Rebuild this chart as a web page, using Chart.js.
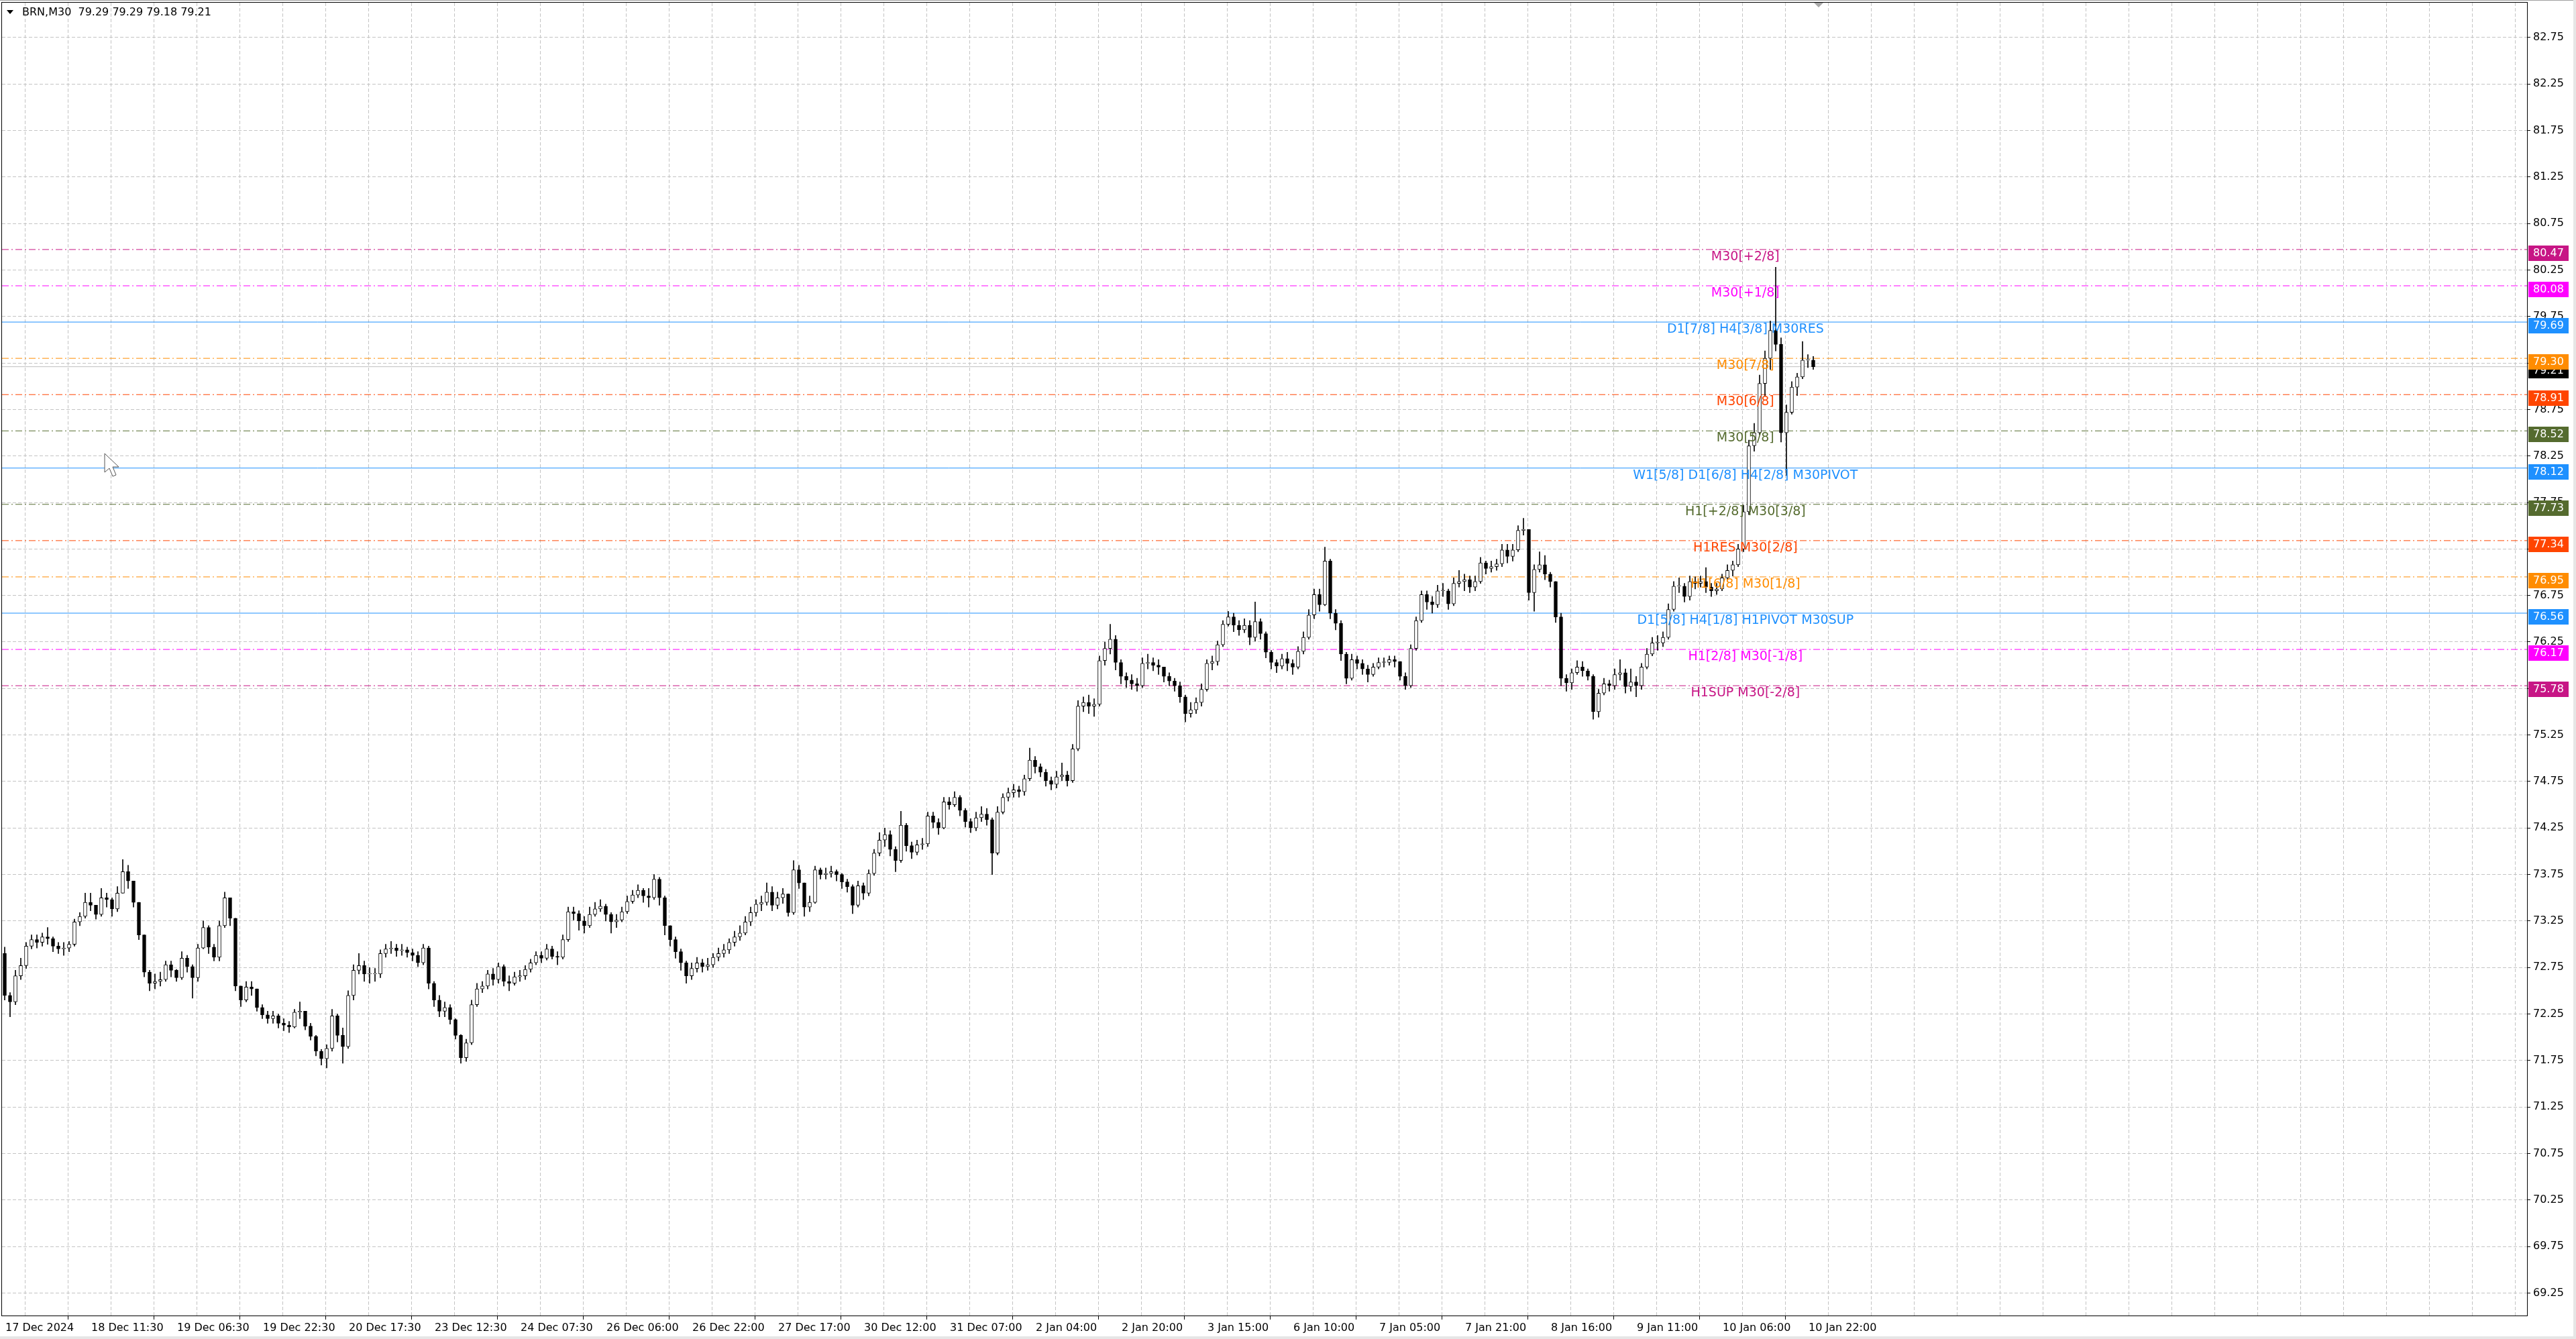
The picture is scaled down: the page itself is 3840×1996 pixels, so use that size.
<!DOCTYPE html>
<html>
<head>
<meta charset="utf-8">
<title>BRN,M30</title>
<script src="https://cdn.jsdelivr.net/npm/chart.js@4.4.1/dist/chart.umd.min.js"></script>
<style>
  html, body { margin: 0; padding: 0; background: #fff; }
  canvas { display: block; }
</style>
</head>
<body>
<canvas id="chart" width="3840" height="1996"></canvas>
<script>
// header values
const symbol = "BRN,M30";
const lastBar = [79.29, 79.29, 79.18, 79.21];
const currentPrice = 79.21;
const firstOpen = 72.90;

// hourly candles (2 M30 bars per candle)
const closes = [
  72.45, 72.38, 72.66, 72.77, 72.98, 73.05, 73.02, 73.08, 73.06, 72.98,
  72.95, 72.96, 73.0, 73.24, 73.3, 73.45, 73.42, 73.32, 73.5, 73.48,
  73.38, 73.55, 73.78, 73.68, 73.45, 73.1, 72.7, 72.58, 72.6, 72.62,
  72.78, 72.72, 72.64, 72.85, 72.76, 72.64, 72.96, 73.18, 72.97, 72.86,
  73.2, 73.5, 73.28, 72.55, 72.4, 72.54, 72.52, 72.32, 72.24, 72.2,
  72.23, 72.15, 72.13, 72.11, 72.27, 72.28, 72.12, 72.01, 71.85, 71.77,
  71.88, 72.23, 72.02, 71.9, 72.45, 72.72, 72.77, 72.68, 72.68, 72.68,
  72.9, 72.95, 72.96, 72.93, 72.94, 72.91, 72.88, 72.8, 72.96, 72.58,
  72.4, 72.28, 72.32, 72.19, 72.02, 71.78, 71.94, 72.35, 72.52, 72.55,
  72.68, 72.62, 72.76, 72.6, 72.58, 72.65, 72.66, 72.73, 72.8, 72.88,
  72.85, 72.95, 72.87, 72.86, 73.05, 73.35, 73.33, 73.25, 73.2, 73.32,
  73.38, 73.41, 73.32, 73.24, 73.26, 73.35, 73.46, 73.53, 73.58, 73.52,
  73.5, 73.7, 73.5, 73.2, 73.05, 72.92, 72.8, 72.66, 72.74, 72.8,
  72.76, 72.78, 72.86, 72.9, 72.94, 73.02, 73.08, 73.12, 73.24, 73.34,
  73.43, 73.45, 73.56, 73.42, 73.5, 73.54, 73.34, 73.8, 73.66, 73.4,
  73.45, 73.8, 73.75, 73.76, 73.78, 73.75, 73.67, 73.62, 73.42, 73.63,
  73.55, 73.76, 73.98, 74.12, 74.18, 74.02, 73.9, 74.28, 74.06, 73.99,
  74.07, 74.08, 74.38, 74.31, 74.25, 74.53, 74.5, 74.58, 74.44, 74.32,
  74.25, 74.36, 74.4, 74.34, 73.98, 74.42, 74.58, 74.63, 74.66, 74.64,
  74.78, 74.98, 74.91, 74.85, 74.76, 74.72, 74.8, 74.82, 74.76, 75.1,
  75.56, 75.6, 75.56, 75.58, 76.05, 76.18, 76.28, 76.03, 75.88, 75.84,
  75.8, 75.78, 76.02, 76.03, 76.0, 75.98, 75.88, 75.83, 75.78, 75.66,
  75.48, 75.52, 75.6, 75.74, 76.02, 76.04, 76.22, 76.44, 76.52, 76.43,
  76.38, 76.43, 76.3, 76.47, 76.34, 76.14, 76.03, 75.99, 76.07, 76.02,
  75.98, 76.15, 76.3, 76.54, 76.76, 76.65, 77.12, 76.56, 76.45, 76.12,
  75.86, 76.06, 76.02, 75.96, 75.9, 75.98, 76.03, 76.03, 76.06, 76.04,
  75.88, 75.78, 76.18, 76.48, 76.76, 76.68, 76.65, 76.8, 76.8, 76.66,
  76.88, 76.9, 76.92, 76.84, 76.9, 77.1, 77.04, 77.06, 77.09, 77.24,
  77.17, 77.24, 77.45, 77.46, 76.78, 77.03, 77.08, 76.98, 76.9, 76.52,
  75.86, 75.81, 75.92, 75.98, 75.94, 75.88, 75.5, 75.7, 75.8, 75.78,
  75.9, 75.92, 75.77, 75.82, 75.78, 75.98, 76.12, 76.24, 76.24, 76.3,
  76.6, 76.85, 76.85, 76.74, 76.9, 76.88, 76.9, 76.84, 76.8, 76.82,
  76.94, 77.02, 77.08, 77.25, 77.65, 78.36, 78.5, 79.03, 79.3, 79.6,
  79.45, 78.5, 78.72, 78.99, 79.1, 79.28, 79.28, 79.21
];
const highs = [
  72.97, 72.48, 72.72, 72.85, 73.02, 73.1, 73.1, 73.12, 73.18, 73.08,
  73.02, 73.02, 73.03, 73.27, 73.34, 73.55, 73.55, 73.42, 73.6, 73.55,
  73.5, 73.62, 73.91, 73.85, 73.6, 73.45, 73.1, 72.72, 72.68, 72.7,
  72.82, 72.82, 72.73, 72.92, 72.88, 72.78, 73.0, 73.25, 73.2, 73.0,
  73.25, 73.56, 73.5, 73.28, 72.55, 72.6, 72.6, 72.52, 72.35, 72.28,
  72.28, 72.25, 72.2, 72.17, 72.3, 72.38, 72.28, 72.15, 72.02, 71.87,
  71.92, 72.3, 72.25, 72.1, 72.5, 72.78, 72.9, 72.82, 72.75, 72.74,
  72.94, 73.0, 73.03, 73.0, 73.0, 72.97, 72.95, 72.92, 73.0, 72.98,
  72.6, 72.45, 72.38, 72.35, 72.2, 72.03, 71.98, 72.4, 72.58, 72.6,
  72.72, 72.74, 72.8, 72.78, 72.66, 72.7, 72.72, 72.77, 72.84, 72.92,
  72.92, 73.0, 72.98, 72.92, 73.1, 73.4, 73.4, 73.36, 73.3, 73.4,
  73.45, 73.48, 73.43, 73.34, 73.32, 73.4, 73.52, 73.58, 73.64, 73.6,
  73.6, 73.75, 73.72, 73.52, 73.2, 73.08, 72.95, 72.82, 72.8, 72.86,
  72.84, 72.85, 72.9, 72.96, 73.0, 73.06, 73.14, 73.2, 73.3, 73.4,
  73.48, 73.52, 73.66, 73.62, 73.56, 73.6, 73.52, 73.9, 73.85, 73.6,
  73.52, 73.84, 73.82, 73.82, 73.84, 73.8, 73.76, 73.7, 73.64, 73.68,
  73.66, 73.8, 74.02, 74.2, 74.25, 74.22, 74.05, 74.43, 74.3, 74.1,
  74.12, 74.14, 74.42, 74.42, 74.35, 74.58, 74.58, 74.64, 74.6, 74.46,
  74.35, 74.42, 74.48, 74.46, 74.36, 74.48, 74.62, 74.68, 74.72, 74.7,
  74.82, 75.11, 75.02, 74.94, 74.88, 74.8, 74.86, 74.95, 74.86, 75.15,
  75.62, 75.66, 75.68, 75.64, 76.1, 76.25, 76.44, 76.32, 76.06, 75.92,
  75.9, 75.86, 76.08, 76.12, 76.08, 76.06, 75.98, 75.92, 75.86, 75.82,
  75.68, 75.6, 75.65, 75.8, 76.06, 76.1, 76.26, 76.48, 76.58, 76.56,
  76.48, 76.5, 76.48, 76.68, 76.5, 76.36, 76.16, 76.06, 76.12, 76.14,
  76.06, 76.2, 76.36, 76.6, 76.82, 76.82, 77.27, 77.14, 76.6, 76.48,
  76.14, 76.12, 76.1, 76.06, 76.0, 76.02, 76.08, 76.08, 76.1, 76.1,
  76.04, 75.92, 76.22, 76.52, 76.8, 76.8, 76.74, 76.86, 76.88, 76.82,
  76.94, 77.02, 76.98, 76.96, 76.96, 77.16, 77.12, 77.12, 77.14, 77.3,
  77.3, 77.3, 77.5, 77.58, 77.46, 77.08, 77.22, 77.18, 77.0, 76.9,
  76.56, 75.9, 75.96, 76.05, 76.04, 75.96, 75.9, 75.74, 75.86, 75.84,
  75.96, 76.06, 75.96, 75.96, 75.88, 76.02, 76.18, 76.3, 76.32, 76.36,
  76.66, 76.9, 76.94, 76.88, 76.96, 76.95, 76.96, 77.05, 76.88, 76.88,
  76.98, 77.08, 77.12, 77.3, 77.72, 78.42, 78.6, 79.12, 79.38, 79.7,
  80.28, 79.52, 78.8, 79.05, 79.14, 79.48, 79.34, 79.32
];
const lows = [
  72.4, 72.22, 72.35, 72.62, 72.74, 72.95, 72.96, 72.98, 73.0, 72.92,
  72.9, 72.88, 72.92, 72.98, 73.2, 73.28, 73.36, 73.27, 73.3, 73.4,
  73.3, 73.35, 73.55, 73.6, 73.4, 73.05, 72.65, 72.5, 72.52, 72.55,
  72.6, 72.65, 72.6, 72.62, 72.7, 72.42, 72.6, 72.95, 72.9, 72.82,
  72.82, 73.18, 73.2, 72.5, 72.33, 72.38, 72.45, 72.28, 72.2, 72.15,
  72.15, 72.1, 72.07, 72.05, 72.1, 72.2, 72.08, 71.97, 71.8, 71.7,
  71.67, 71.85, 71.95, 71.72, 71.88, 72.4, 72.68, 72.6, 72.58, 72.6,
  72.64, 72.86, 72.9, 72.87, 72.88, 72.86, 72.82, 72.76, 72.78, 72.52,
  72.33, 72.22, 72.22, 72.14, 71.98, 71.72, 71.74, 71.92, 72.33, 72.48,
  72.52, 72.56, 72.58, 72.55, 72.5, 72.56, 72.6, 72.62, 72.7, 72.78,
  72.8, 72.83, 72.84, 72.78, 72.84, 73.03, 73.26, 73.15, 73.12, 73.18,
  73.3, 73.35, 73.25, 73.12, 73.18, 73.24, 73.33, 73.44, 73.5, 73.45,
  73.4, 73.48, 73.42, 73.1, 72.98, 72.85, 72.72, 72.58, 72.62, 72.7,
  72.7, 72.72, 72.75, 72.82, 72.86, 72.9, 72.98, 73.04, 73.1, 73.2,
  73.3, 73.36, 73.42, 73.36, 73.38, 73.44, 73.3, 73.32, 73.6, 73.3,
  73.35, 73.44, 73.7, 73.7, 73.72, 73.68, 73.6, 73.56, 73.33, 73.4,
  73.48, 73.52, 73.74, 73.95, 74.05, 73.95, 73.78, 73.88, 74.0, 73.92,
  73.96, 74.02, 74.05, 74.25, 74.18, 74.24, 74.45, 74.48, 74.38, 74.26,
  74.2, 74.22, 74.32, 74.28, 73.75, 73.96, 74.4, 74.54, 74.58, 74.58,
  74.6, 74.76, 74.84, 74.8, 74.7, 74.66, 74.68, 74.76, 74.7, 74.74,
  75.08, 75.5, 75.48, 75.45, 75.56, 76.0, 76.12, 75.95, 75.8, 75.76,
  75.74, 75.72, 75.76, 75.96, 75.94, 75.9, 75.82, 75.78, 75.72, 75.6,
  75.39, 75.44, 75.48, 75.56, 75.72, 75.95, 76.0, 76.2, 76.42, 76.36,
  76.32, 76.35, 76.22, 76.26, 76.28, 76.08, 75.96, 75.92, 75.96, 75.94,
  75.9, 75.96, 76.12, 76.28, 76.5, 76.58, 76.64, 76.5, 76.38, 76.05,
  75.8, 75.84, 75.96, 75.9, 75.82, 75.88, 75.96, 75.98, 76.0, 75.98,
  75.84, 75.74, 75.76, 76.16, 76.46, 76.6, 76.56, 76.62, 76.74, 76.6,
  76.64, 76.84, 76.8, 76.78, 76.8, 76.88, 76.98, 77.0, 77.02, 77.06,
  77.1, 77.12, 77.22, 77.4, 76.7, 76.58, 77.0, 76.92, 76.84, 76.46,
  75.78, 75.72, 75.74, 75.9, 75.88, 75.84, 75.42, 75.44, 75.68, 75.72,
  75.74, 75.84, 75.7, 75.72, 75.66, 75.74, 75.96, 76.1, 76.16, 76.2,
  76.28, 76.58, 76.78, 76.68, 76.7, 76.82, 76.84, 76.78, 76.74, 76.76,
  76.8, 76.92, 76.96, 77.06, 77.22, 77.62, 78.3, 78.48, 78.9, 79.18,
  79.38, 78.4, 78.04, 78.7, 78.9, 79.08, 79.2, 79.18
];

// time axis labels, one every 32 M30 bars
const timeLabels = [
  "17 Dec 2024", "18 Dec 11:30", "19 Dec 06:30", "19 Dec 22:30", "20 Dec 17:30",
  "23 Dec 12:30", "24 Dec 07:30", "26 Dec 06:00", "26 Dec 22:00", "27 Dec 17:00",
  "30 Dec 12:00", "31 Dec 07:00", "2 Jan 04:00", "2 Jan 20:00", "3 Jan 15:00",
  "6 Jan 10:00", "7 Jan 05:00", "7 Jan 21:00", "8 Jan 16:00", "9 Jan 11:00",
  "10 Jan 06:00", "10 Jan 22:00"
];

// price axis ticks
const priceTicks = [
  69.25, 69.75, 70.25, 70.75, 71.25, 71.75, 72.25, 72.75, 73.25, 73.75,
  74.25, 74.75, 75.25, 75.75, 76.25, 76.75, 77.25, 77.75, 78.25, 78.75,
  79.25, 79.75, 80.25, 80.75, 81.25, 81.75, 82.25, 82.75
];

// Murrey math levels
const levelValues = [80.47, 80.08, 79.69, 79.30, 78.91, 78.52, 78.12, 77.73, 77.34, 76.95, 76.56, 76.17, 75.78];
const levelNames = [
  "M30[+2/8]", "M30[+1/8]", "D1[7/8] H4[3/8] M30RES", "M30[7/8]", "M30[6/8]", "M30[5/8]",
  "W1[5/8] D1[6/8] H4[2/8] M30PIVOT", "H1[+2/8] M30[3/8]", "H1RES M30[2/8]", "H1[6/8] M30[1/8]",
  "D1[5/8] H4[1/8] H1PIVOT M30SUP", "H1[2/8] M30[-1/8]", "H1SUP M30[-2/8]"
];
const levelColors = [
  "#C71585", "#FF00FF", "#1E90FF", "#FF8C00", "#FF4500", "#556B2F", "#1E90FF",
  "#556B2F", "#FF4500", "#FF8C00", "#1E90FF", "#FF00FF", "#C71585"
];
const levelSolid = [false, false, true, false, false, false, true, false, false, false, true, false, false];

// layout of the M30 time axis
const barsPerCandle = 2;
const barsPerLabel = 32;
const barsPerGrid = 16;
const xMin = -0.5, xMax = 940.5;
const yMin = 69.008, yMax = 83.124;
const levelLabelBar = 649.2;
const shiftBar = 676.5;
const font = "DejaVu Sans";

const opens = [firstOpen].concat(closes.slice(0, -1));
const candleX = closes.map((c, j) => j * barsPerCandle + 0.5);

const bodies = closes.map((c, j) => ({ x: candleX[j], y: [opens[j], c] }));
const wicks = closes.map((c, j) => ({
  x: candleX[j],
  y: [Math.min(lows[j], opens[j], c), Math.max(highs[j], opens[j], c)]
}));

const levelSets = levelValues.map((v, i) => ({
  type: "line",
  data: [{ x: xMin, y: v }, { x: xMax, y: v }],
  borderColor: levelColors[i],
  borderWidth: 1,
  borderDash: levelSolid[i] ? [] : [10, 4, 2, 4],
  pointRadius: 0,
  order: 3
}));

const gridBars = [];
for (let b = 0; b <= xMax; b += barsPerGrid) gridBars.push(b);

const isLabelled = (v) => v % barsPerLabel === 0 && v / barsPerLabel < timeLabels.length;

const overlay = {
  id: "overlay",
  afterDatasetsDraw(chart) {
    const { ctx, scales: { x, y } } = chart;
    ctx.save();
    ctx.font = "19px '" + font + "'";
    ctx.textAlign = "center";
    ctx.textBaseline = "middle";
    levelValues.forEach((v, i) => {
      ctx.fillStyle = levelColors[i];
      ctx.fillText(levelNames[i], x.getPixelForValue(levelLabelBar), y.getPixelForValue(v) + 11);
    });
    ctx.restore();
  },
  afterDraw(chart) {
    const { ctx, chartArea: a, scales: { x, y } } = chart;
    ctx.save();
    // plot frame
    ctx.strokeStyle = "#000";
    ctx.lineWidth = 1;
    ctx.strokeRect(a.left - 0.5, a.top - 0.5, a.right - a.left + 1, a.bottom - a.top + 1);

    // price tags on the right scale
    const tag = (v, color) => {
      const py = y.getPixelForValue(v);
      ctx.fillStyle = color;
      ctx.fillRect(a.right + 2, Math.round(py) - 6, 60, 23);
      ctx.fillStyle = "#fff";
      ctx.font = "16px '" + font + "'";
      ctx.textAlign = "left";
      ctx.textBaseline = "middle";
      ctx.fillText(v.toFixed(2), a.right + 9, Math.round(py) + 6);
    };
    tag(currentPrice, "#000");
    levelValues.forEach((v, i) => tag(v, levelColors[i]));

    // header
    ctx.fillStyle = "#000";
    ctx.beginPath();
    ctx.moveTo(10, 15); ctx.lineTo(20, 15); ctx.lineTo(15, 21); ctx.closePath();
    ctx.fill();
    ctx.font = "16px '" + font + "'";
    ctx.textAlign = "left";
    ctx.textBaseline = "middle";
    ctx.fillText(symbol + "  " + lastBar.map(v => v.toFixed(2)).join(" "), 33, 19);

    // chart shift marker
    const sx = x.getPixelForValue(shiftBar);
    ctx.fillStyle = "#a8a8a8";
    ctx.beginPath();
    ctx.moveTo(sx - 7, a.top); ctx.lineTo(sx + 7, a.top); ctx.lineTo(sx, a.top + 7); ctx.closePath();
    ctx.fill();

    // mouse pointer left in the screenshot
    ctx.fillStyle = "#fff";
    ctx.strokeStyle = "#555";
    ctx.beginPath();
    ctx.moveTo(156, 676); ctx.lineTo(156, 704); ctx.lineTo(163, 698); ctx.lineTo(168, 710);
    ctx.lineTo(173, 708); ctx.lineTo(168, 696); ctx.lineTo(177, 696); ctx.closePath();
    ctx.fill(); ctx.stroke();

    // window edges
    ctx.fillStyle = "#a0a0a0";
    ctx.fillRect(0, 0, chart.width, 1);
    ctx.fillStyle = "#e6e6e6";
    ctx.fillRect(chart.width - 4, 0, 4, chart.height);
    ctx.fillRect(0, chart.height - 4, chart.width, 4);
    ctx.restore();
  }
};

Chart.defaults.font.family = font;

new Chart(document.getElementById("chart").getContext("2d"), {
  type: "bar",
  data: {
    datasets: levelSets.concat([
      {
        type: "line",
        data: [{ x: xMin, y: currentPrice }, { x: xMax, y: currentPrice }],
        borderColor: "#c0c0c0",
        borderWidth: 1,
        pointRadius: 0,
        order: 4
      },
      {
        data: wicks,
        backgroundColor: "#000",
        borderWidth: 0,
        barThickness: 1,
        grouped: false,
        order: 1
      },
      {
        data: bodies,
        backgroundColor: (c) => (c.raw && c.raw.y[1] >= c.raw.y[0] ? "#fff" : "#000"),
        borderColor: "#000",
        borderWidth: 1,
        borderSkipped: false,
        barThickness: 5,
        minBarLength: 1,
        grouped: false,
        order: 0
      }
    ])
  },
  options: {
    responsive: false,
    animation: false,
    devicePixelRatio: 1,
    layout: { padding: { left: 3, top: 4, right: 0, bottom: 0 } },
    plugins: { legend: { display: false }, tooltip: { enabled: false } },
    scales: {
      x: {
        type: "linear",
        min: xMin,
        max: xMax,
        offset: false,
        afterBuildTicks: (s) => { s.ticks = gridBars.map(v => ({ value: v })); },
        afterFit: (s) => { s.height = 35; s.paddingLeft = 0; s.paddingRight = 0; },
        ticks: {
          autoSkip: false,
          maxRotation: 0,
          minRotation: 0,
          align: "start",
          labelOffset: 3,
          padding: 3,
          color: "#000",
          font: { family: font, size: 16 },
          callback: (v) => (isLabelled(v) ? timeLabels[v / barsPerLabel] : "")
        },
        grid: {
          color: "#c4c4c4",
          lineWidth: 1,
          drawTicks: true,
          tickLength: 6,
          tickColor: (c) => (c.tick && isLabelled(c.tick.value) ? "#000" : "rgba(0,0,0,0)"),
          tickBorderDash: []
        },
        border: { display: false, dash: [5, 3] }
      },
      y: {
        position: "right",
        min: yMin,
        max: yMax,
        afterBuildTicks: (s) => { s.ticks = priceTicks.map(v => ({ value: v })); },
        afterFit: (s) => { s.width = 73; s.paddingTop = 0; s.paddingBottom = 0; },
        ticks: {
          autoSkip: false,
          padding: 4,
          color: "#000",
          font: { family: font, size: 16 },
          callback: (v) => v.toFixed(2)
        },
        grid: {
          color: "#c4c4c4",
          lineWidth: 1,
          drawTicks: true,
          tickLength: 5,
          tickColor: "#000",
          tickBorderDash: []
        },
        border: { display: false, dash: [5, 3] }
      }
    }
  },
  plugins: [overlay]
});
</script>
</body>
</html>
